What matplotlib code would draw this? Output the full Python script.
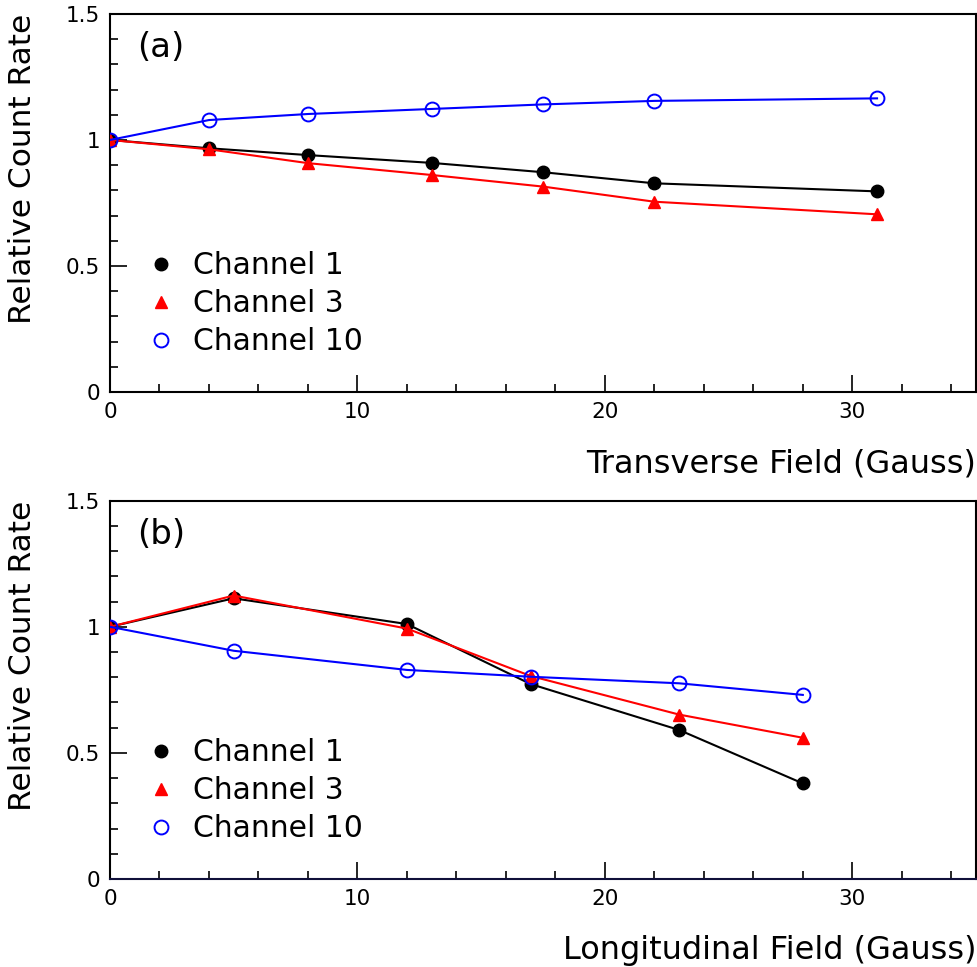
import matplotlib
matplotlib.use("Agg")
import matplotlib.pyplot as plt
from matplotlib.lines import Line2D
from matplotlib.ticker import MultipleLocator

plt.rcParams["font.family"] = ["DejaVu Sans"]

# panel (a): transverse field
trans_field = [0, 4, 8, 13, 17.5, 22, 31]
trans_ch1 = [1.0, 0.967, 0.940, 0.909, 0.872, 0.828, 0.796]
trans_ch3 = [1.0, 0.963, 0.908, 0.861, 0.815, 0.755, 0.705]
trans_ch10 = [1.0, 1.079, 1.103, 1.123, 1.141, 1.155, 1.165]

# panel (b): longitudinal field
long_field = [0, 5, 12, 17, 23, 28]
long_ch1 = [1.0, 1.113, 1.011, 0.773, 0.591, 0.379]
long_ch3 = [1.0, 1.124, 0.993, 0.805, 0.652, 0.560]
long_ch10 = [1.0, 0.905, 0.829, 0.802, 0.776, 0.730]

labels = ["Channel 1", "Channel 3", "Channel 10"]
panel_tags = ["(a)", "(b)"]
xlabels = ["Transverse Field (Gauss)", "Longitudinal Field (Gauss)"]

STYLE = [
    dict(color="black", marker="o", ms=9, mfc="black", mec="black"),
    dict(color="red", marker="^", ms=9, mfc="red", mec="red"),
    dict(color="blue", marker="o", ms=10, mfc="none", mec="blue", mew=1.4),
]


def draw_panel(ax, x, series, tag, xlabel):
    for ys, st in zip(series, STYLE):
        ax.plot(x, ys, lw=1.5, zorder=3, **st)

    ax.set_xlim(0, 35)
    ax.set_ylim(0, 1.5)
    ax.xaxis.set_major_locator(MultipleLocator(10))
    ax.xaxis.set_minor_locator(MultipleLocator(2))
    ax.yaxis.set_minor_locator(MultipleLocator(0.1))
    ax.set_yticks([0, 0.5, 1, 1.5])
    ax.set_yticklabels(["0", "0.5", "1", "1.5"])
    ax.tick_params(which="both", direction="in", top=False, right=False,
                   labelsize=15.5, width=1.2, pad=7)
    ax.tick_params(which="major", length=12)
    ax.tick_params(which="minor", length=6)
    for sp in ax.spines.values():
        sp.set_linewidth(1.5)

    ax.text(-0.1005, 1.0, "Relative Count Rate", transform=ax.transAxes,
            rotation=90, ha="center", va="top", fontsize=22.5)
    ax.text(1.0, -0.19, xlabel, transform=ax.transAxes,
            ha="right", va="center", fontsize=23)
    ax.text(1.1, 1.365, tag, fontsize=24.5, ha="left", va="center")

    handles = [Line2D([], [], ls="none", **st) for st in STYLE]
    ax.legend(handles, labels, loc="center left",
              bbox_to_anchor=(0.029, 0.233), frameon=False, fontsize=21.5,
              handlelength=0.95, handletextpad=0.6, labelspacing=0.3,
              borderaxespad=0)


fig = plt.figure(figsize=(9.77, 9.67), dpi=100)
ax_a = fig.add_axes([0.1126, 0.5946, 0.8864, 0.391])
ax_b = fig.add_axes([0.1126, 0.0910, 0.8864, 0.3912])

draw_panel(ax_a, trans_field, [trans_ch1, trans_ch3, trans_ch10],
           panel_tags[0], xlabels[0])
draw_panel(ax_b, long_field, [long_ch1, long_ch3, long_ch10],
           panel_tags[1], xlabels[1])
ax_b.spines["bottom"].set_color("#10103a")

fig.savefig("out.png", dpi=100)
